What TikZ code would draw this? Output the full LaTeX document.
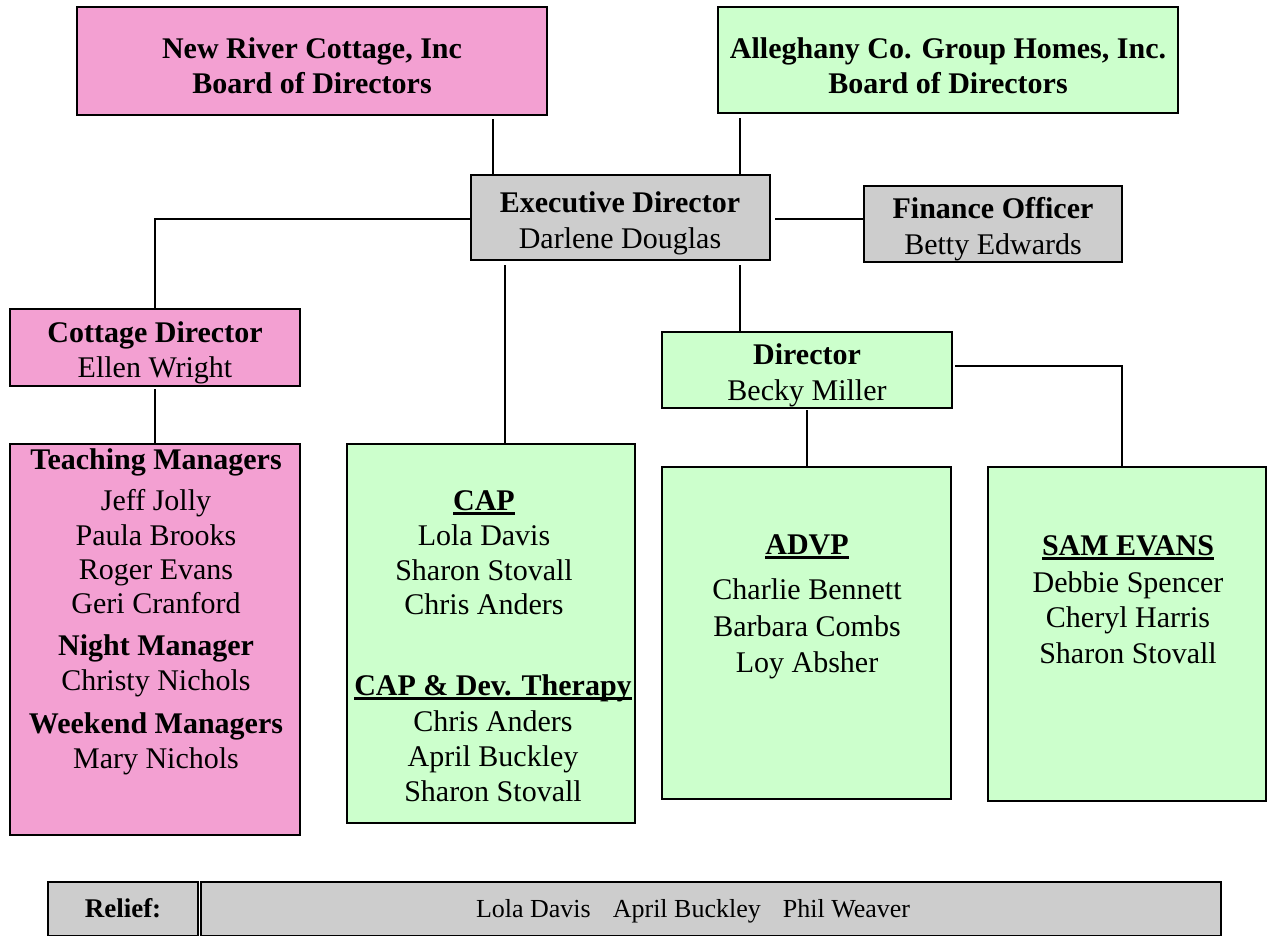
\documentclass[tikz,border=0pt]{standalone}
\usepackage{fontspec}
\setmainfont{Liberation Serif}
\definecolor{pinkf}{HTML}{F3A0D2}
\definecolor{greenf}{HTML}{CCFFCC}
\definecolor{grayf}{HTML}{CDCDCD}
\newsavebox{\ulbbox}
\newcommand{\ulb}[1]{\sbox{\ulbbox}{\bfseries #1}\rlap{\rule[-4.5pt]{\wd\ulbbox}{2.4pt}}\usebox{\ulbbox}}
\tikzset{
  box/.style={draw=black, line width=1.6pt, inner sep=0pt, outer sep=0pt, anchor=north west},
  pinkbox/.style={box, fill=pinkf},
  greenbox/.style={box, fill=greenf},
  graybox/.style={box, fill=grayf},
  txt/.style={anchor=base, inner sep=0pt, font=\fontsize{30}{36}\selectfont},
  btxt/.style={anchor=base, inner sep=0pt, font=\fontsize{30}{36}\selectfont\bfseries},
  conn/.style={draw=black, line width=1.6pt},
}
\begin{document}
\begin{tikzpicture}[x=1pt,y=-1pt]
\useasboundingbox (0,0) rectangle (1272,935);
% boxes
\node[pinkbox, minimum width=470pt, minimum height=108pt] (nrc) at (77,7) {};
\node[greenbox, minimum width=460pt, minimum height=106pt] (agh) at (718,7) {};
\node[graybox, minimum width=299pt, minimum height=85pt] (exec) at (471,175) {};
\node[graybox, minimum width=258pt, minimum height=76pt] (fin) at (864,186) {};
\node[pinkbox, minimum width=290pt, minimum height=77pt] (cot) at (10,309) {};
\node[greenbox, minimum width=290pt, minimum height=76pt] (bec) at (662,332) {};
\node[pinkbox, minimum width=290pt, minimum height=391pt] (tea) at (10,444) {};
\node[greenbox, minimum width=288pt, minimum height=379pt] (cap) at (347,444) {};
\node[greenbox, minimum width=289pt, minimum height=332pt] (adv) at (662,467) {};
\node[greenbox, minimum width=278pt, minimum height=334pt] (sam) at (988,467) {};
\node[graybox, minimum width=150pt, minimum height=54pt] (rl) at (48,882) {};
\node[graybox, minimum width=1020pt, minimum height=54pt] (rr) at (201,882) {};
% connector helpers
\coordinate (xa) at (493,0);
\coordinate (xb) at (740,0);
\coordinate (xc) at (505,0);
\coordinate (xf) at (1122,0);
\coordinate (ye) at (0,219);
\coordinate (yg) at (0,366);
% connectors
\draw[conn, shorten <=4pt] (nrc.south -| xa) -- (exec.north -| xa);
\draw[conn, shorten <=5pt] (agh.south -| xb) -- (exec.north -| xb);
\draw[conn] (exec.west |- ye) -| (cot.north);
\draw[conn, shorten <=5pt] (exec.east |- ye) -- (fin.west |- ye);
\draw[conn, shorten <=5pt] (exec.south -| xc) -- (cap.north -| xc);
\draw[conn, shorten <=5pt] (exec.south -| xb) -- (bec.north -| xb);
\draw[conn, shorten <=3pt] (bec.east |- yg) -| (sam.north -| xf);
\draw[conn, shorten <=2pt] (bec.south) -- (adv.north -| bec.south);
\draw[conn, shorten <=3pt] (cot.south) -- (tea.north);
% texts
\node[btxt] (t1) at (312,58) {New River Cottage, Inc};
\node[btxt] (t2) at (312,93) {Board of Directors};
\node[btxt] (t3) at (948,58) {Alleghany Co. Group Homes, Inc.};
\node[btxt] (t4) at (948,93) {Board of Directors};
\node[btxt] (t5) at (620,212) {Executive Director};
\node[txt] (t6) at (620,248) {Darlene Douglas};
\node[btxt] (t7) at (993,218) {Finance Officer};
\node[txt] (t8) at (993,254) {Betty Edwards};
\node[btxt] (t9) at (155,342) {Cottage Director};
\node[txt] (t10) at (155,377) {Ellen Wright};
\node[btxt] (t11) at (807,364) {Director};
\node[txt] (t12) at (807,400) {Becky Miller};
% teaching
\node[btxt] (a1) at (156,469) {Teaching Managers};
\node[txt] (a2) at (156,510) {Jeff Jolly};
\node[txt] (a3) at (156,545) {Paula Brooks};
\node[txt] (a4) at (156,579) {Roger Evans};
\node[txt] (a5) at (156,613) {Geri Cranford};
\node[btxt] (a6) at (156,655) {Night Manager};
\node[txt] (a7) at (156,690) {Christy Nichols};
\node[btxt] (a8) at (156,733) {Weekend Managers};
\node[txt] (a9) at (156,768) {Mary Nichols};
% cap
\node[txt] (b1) at (484,510) {\ulb{CAP}};
\node[txt] (b2) at (484,545) {Lola Davis};
\node[txt] (b3) at (484,580) {Sharon Stovall};
\node[txt] (b4) at (484,614) {Chris Anders};
\node[txt] (b5) at (493,695) {\ulb{CAP \& Dev. Therapy}};
\node[txt] (b6) at (493,731) {Chris Anders};
\node[txt] (b7) at (493,766) {April Buckley};
\node[txt] (b8) at (493,801) {Sharon Stovall};
% advp
\node[txt] (c1) at (807,554) {\ulb{ADVP}};
\node[txt] (c2) at (807,599) {Charlie Bennett};
\node[txt] (c3) at (807,636) {Barbara Combs};
\node[txt] (c4) at (807,672) {Loy Absher};
% sam
\node[txt] (d1) at (1128,555) {\ulb{SAM EVANS}};
\node[txt] (d2) at (1128,592) {Debbie Spencer};
\node[txt] (d3) at (1128,627) {Cheryl Harris};
\node[txt] (d4) at (1128,663) {Sharon Stovall};
% relief
\node[anchor=base, inner sep=0pt, font=\fontsize{27}{32}\selectfont\bfseries] (r1) at (123,917) {Relief:};
\node[anchor=base, inner sep=0pt, font=\fontsize{26}{31}\selectfont] (r2) at (693,917) {Lola Davis\hspace{22pt}April Buckley\hspace{22pt}Phil Weaver};
\end{tikzpicture}
\end{document}
